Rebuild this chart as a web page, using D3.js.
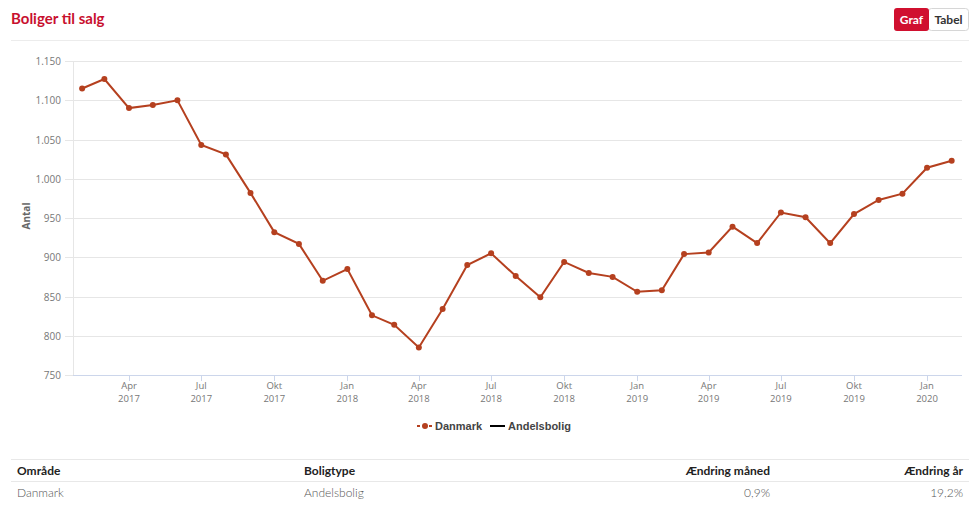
<!DOCTYPE html>
<html><head><meta charset="utf-8">
<script src="https://cdn.jsdelivr.net/npm/d3@7"></script>
<style>
body{margin:0;background:#fff;}
svg{display:block;}
</style></head>
<body>
<svg id="c" width="980" height="514"></svg>
<script>
const months = ["2017-02","2017-03","2017-04","2017-05","2017-06","2017-07","2017-08","2017-09","2017-10","2017-11","2017-12",
"2018-01","2018-02","2018-03","2018-04","2018-05","2018-06","2018-07","2018-08","2018-09","2018-10","2018-11","2018-12",
"2019-01","2019-02","2019-03","2019-04","2019-05","2019-06","2019-07","2019-08","2019-09","2019-10","2019-11","2019-12",
"2020-01","2020-02"];
const danmark = [1115,1127,1090,1094,1100,1043,1031,982,932,917,870,885,826,814,785,834,890,905,876,849,894,880,
875,856,858,904,906,939,918,957,951,918,955,973,981,1014,1023];
const yTicks = [750,800,850,900,950,1000,1050,1100,1150];
const monthNames = ["Jan","Feb","Mar","Apr","Maj","Jun","Jul","Aug","Sep","Okt","Nov","Dec"];
const tableHeader = ["Område","Boligtype","Ændring måned","Ændring år"];
const tableRow = ["Danmark","Andelsbolig","0,9%","19,2%"];

const svg = d3.select("#c");
const parse = d3.timeParse("%Y-%m");
const data = months.map((m,i)=>({d:parse(m), v:danmark[i]}));

const pL=73, pR=962, pT=61, pB=375;
const x = d3.scaleTime()
  .domain([new Date(2017,0,20,12), new Date(2020,1,14)])
  .range([pL,pR]);
const y = d3.scaleLinear().domain([750,1150]).range([pB,pT]);

// title
svg.append("text").attr("x",11).attr("y",24).text("Boliger til salg")
  .attr("font-family","Lato, 'Open Sans', sans-serif").attr("font-weight","bold")
  .attr("font-size",15).attr("fill","#c8102e");
svg.append("line").attr("x1",11).attr("x2",969).attr("y1",40.5).attr("y2",40.5).attr("stroke","#ececec");

// toggle
const tg = svg.append("g");
tg.append("rect").attr("x",928.5).attr("y",8.5).attr("width",40).attr("height",22).attr("rx",3)
  .attr("fill","#fff").attr("stroke","#d6d6d6");
tg.append("rect").attr("x",894).attr("y",8).attr("width",35).attr("height",23).attr("rx",3).attr("fill","#d0102f");
tg.append("text").attr("x",911.5).attr("y",24).attr("text-anchor","middle").text("Graf")
  .attr("font-family","Lato, sans-serif").attr("font-weight","bold").attr("font-size",12).attr("fill","#fff");
tg.append("text").attr("x",948.5).attr("y",24).attr("text-anchor","middle").text("Tabel")
  .attr("font-family","Lato, sans-serif").attr("font-weight","bold").attr("font-size",12).attr("fill","#333");

// gridlines
const g = svg.append("g");
g.selectAll("line.grid").data(yTicks).enter().append("line")
  .attr("x1",65).attr("x2",pR).attr("y1",d=>Math.round(y(d))+0.5).attr("y2",d=>Math.round(y(d))+0.5)
  .attr("stroke","#e6e6e6");
g.append("line").attr("x1",pL+0.5).attr("x2",pL+0.5).attr("y1",pT).attr("y2",pB).attr("stroke","#e6e6e6");

// y labels
g.selectAll("text.yl").data(yTicks).enter().append("text")
  .attr("x",61).attr("y",d=>y(d)+4).attr("text-anchor","end")
  .text(d=>d3.format(",")(d).replace(/,/g,"."))
  .attr("font-family","'Open Sans', sans-serif").attr("font-size",10).attr("fill","#777");
svg.append("text").attr("transform","translate(30,216) rotate(-90)").attr("text-anchor","middle")
  .text("Antal").attr("font-family","'Open Sans', sans-serif").attr("font-weight","bold")
  .attr("font-size",10).attr("fill","#666");

// x axis
const xTicks = d3.timeMonth.every(3).range(new Date(2017,3,1), new Date(2020,1,2));
g.append("line").attr("x1",pL).attr("x2",pR).attr("y1",pB+0.5).attr("y2",pB+0.5).attr("stroke","#ccd6eb");
g.selectAll("line.xt").data(xTicks).enter().append("line")
  .attr("x1",d=>Math.round(x(d))+0.5).attr("x2",d=>Math.round(x(d))+0.5)
  .attr("y1",pB).attr("y2",pB+6).attr("stroke","#ccd6eb");
g.selectAll("text.xm").data(xTicks).enter().append("text")
  .attr("text-anchor","middle").attr("font-family","'Open Sans', sans-serif")
  .attr("font-size",9.5).attr("fill","#777")
  .attr("x",d=>x(d)).attr("y",389).text(d=>monthNames[d.getMonth()]);
g.selectAll("text.xy").data(xTicks).enter().append("text")
  .attr("text-anchor","middle").attr("font-family","'Open Sans', sans-serif")
  .attr("font-size",9.5).attr("fill","#777")
  .attr("x",d=>x(d)).attr("y",402).text(d=>d.getFullYear());

// line
const col = "#b5401f";
svg.append("path").datum(data)
  .attr("d", d3.line().x(d=>x(d.d)).y(d=>y(d.v)))
  .attr("fill","none").attr("stroke",col).attr("stroke-width",2);
svg.selectAll("circle.pt").data(data).enter().append("circle")
  .attr("cx",d=>x(d.d)).attr("cy",d=>y(d.v)).attr("r",3).attr("fill",col);

// legend
const lg = svg.append("g");
lg.append("line").attr("x1",417).attr("x2",433).attr("y1",426).attr("y2",426)
  .attr("stroke",col).attr("stroke-width",2).attr("stroke-dasharray","3,3");
lg.append("circle").attr("cx",425).attr("cy",426).attr("r",3).attr("fill",col);
lg.append("text").attr("x",435).attr("y",430).text("Danmark")
  .attr("font-family","'Liberation Sans', Arial, sans-serif").attr("font-weight","bold").attr("font-size",11).attr("fill","#444");
lg.append("line").attr("x1",490).attr("x2",505).attr("y1",426).attr("y2",426).attr("stroke","#000").attr("stroke-width",2);
lg.append("text").attr("x",508).attr("y",430).text("Andelsbolig")
  .attr("font-family","'Liberation Sans', Arial, sans-serif").attr("font-weight","bold").attr("font-size",11).attr("fill","#444");

// table
const tb = svg.append("g").attr("font-family","Lato, sans-serif").attr("font-size",12);
tb.append("line").attr("x1",11).attr("x2",969).attr("y1",459.5).attr("y2",459.5).attr("stroke","#e8e8e8");
tb.append("line").attr("x1",11).attr("x2",969).attr("y1",481.5).attr("y2",481.5).attr("stroke","#e8e8e8");
const colX = [17,304,770,963];
const anchors = ["start","start","end","end"];
tableHeader.forEach((t,i)=>{
  tb.append("text").attr("x",colX[i]).attr("y",475).attr("text-anchor",anchors[i]).text(t)
    .attr("font-weight","bold").attr("fill","#222");
});
tableRow.forEach((t,i)=>{
  tb.append("text").attr("x",colX[i]).attr("y",497).attr("text-anchor",anchors[i]).text(t)
    .attr("font-weight","300").attr("fill","#555");
});
</script>
</body></html>
